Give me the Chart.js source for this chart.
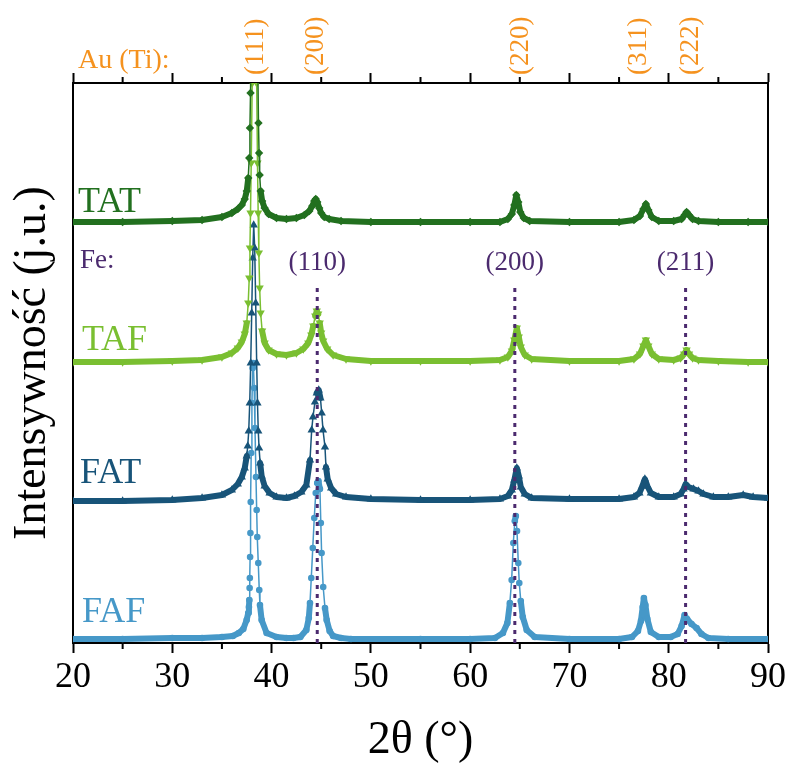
<!DOCTYPE html>
<html>
<head>
<meta charset="utf-8">
<script src="https://cdn.jsdelivr.net/npm/chart.js@4.4.1/dist/chart.umd.min.js"></script>
<style>
  body { margin: 0; background: #fff; }
</style>
</head>
<body>
<canvas id="xrd" width="787" height="772"></canvas>
<script>
const ctx = document.getElementById('xrd');

// [2theta (deg), intensity (a.u., curves already offset)]
const tat = [
  [20,421],[25,421],[30,422],[33,423],[35,426],[36,430],[36.6,434],[37.0,438],[37.3,444],[37.5,452],
  [37.65,465],[37.75,485],[37.82,515],[37.88,550],[37.95,600],[38.05,680],[38.3,740],[38.55,640],[38.62,570],[38.68,520],
  [38.74,490],[38.8,468],[38.9,452],[39.05,442],[39.3,435],[39.7,429],[40.5,425],[41.5,424],[42.5,425],[43.3,428],
  [43.8,432],[44.1,437],[44.3,442],[44.45,444],[44.6,441],[44.8,435],[45.0,430],[45.3,426],[45.8,424],[47,422],
  [50,421],[55,421],[60,421],[63,421],[63.8,424],[64.2,429],[64.45,438],[64.65,448],[64.85,441],[65.05,431],
  [65.4,425],[66,422],[70,421],[75,421],[76.5,423],[77.1,427],[77.45,434],[77.7,439],[77.95,433],[78.3,426],
  [79,422],[80.5,422],[81.3,424],[81.6,428],[81.8,431],[82.05,428],[82.4,424],[83,422],[85,421],[88,421],[90,421]
];
const taf = [
  [20,281],[25,281],[30,282],[33,283],[35,286],[36,290],[36.6,295],[37.0,301],[37.3,309],[37.5,320],
  [37.65,340],[37.75,365],[37.82,395],[37.88,430],[37.95,480],[38.05,560],[38.25,650],[38.5,560],[38.58,480],[38.65,430],
  [38.72,390],[38.8,355],[38.9,330],[39.05,312],[39.3,300],[39.7,293],[40.5,289],[41.5,288],[42.5,290],[43.2,294],
  [43.7,300],[44.0,308],[44.2,317],[44.4,327],[44.55,332],[44.7,329],[44.85,320],[45.0,310],[45.2,302],[45.6,294],
  [46.2,288],[47.5,284],[50,282],[55,282],[60,282],[63,283],[63.8,286],[64.2,292],[64.45,303],[64.7,315],
  [64.9,306],[65.1,296],[65.5,288],[66.2,284],[70,282],[75,282],[76.5,284],[77.1,289],[77.45,297],[77.7,303],
  [77.95,297],[78.3,289],[79,284],[80.5,283],[81.2,285],[81.55,289],[81.8,293],[82.05,289],[82.4,285],[83,283],
  [85,282],[88,281],[90,281]
];
const fat = [
  [20,142],[25,142],[30,143],[33,145],[35,148],[36,153],[36.6,159],[37.0,166],[37.3,175],[37.5,187],
  [37.6,197],[37.7,212],[37.8,240],[37.9,280],[38.0,330],[38.1,385],[38.2,418],[38.3,395],[38.4,340],[38.5,280],
  [38.58,240],[38.66,212],[38.74,195],[38.85,180],[39.0,167],[39.3,157],[39.8,150],[40.5,146],[41.5,145],[42.3,147],
  [43.0,151],[43.5,158],[43.87,183],[44.04,213],[44.17,226],[44.37,241],[44.55,250],[44.75,253],[44.92,245],[45.05,230],
  [45.18,213],[45.38,196],[45.48,176],[45.65,164],[46.0,155],[46.5,149],[47.5,146],[50,144],[55,143],[60,143],
  [63,144],[63.8,147],[64.2,153],[64.45,163],[64.7,175],[64.9,167],[65.1,156],[65.5,149],[66.2,145],[70,144],
  [75,144],[76.5,146],[77.05,150],[77.35,157],[77.6,164],[77.85,157],[78.2,150],[79,146],[80.5,146],[81.2,149],
  [81.5,154],[81.7,159],[82.0,156],[82.5,154],[83.0,152],[83.5,149],[84.5,146],[86,146],[87.5,148],[88.5,146],[90,145]
];
const faf = [
  [20,4],[25,4],[30,5],[33,5],[35,6],[36.1,7],[36.7,10],[37.15,14],[37.49,23],[37.65,30],
  [37.72,36],[37.76,43],[37.79,55],[37.81,65],[37.84,86],[37.87,110],[37.9,141],[37.95,190],[38.02,240],[38.1,275],
  [38.16,280],[38.25,255],[38.33,215],[38.43,166],[38.5,133],[38.56,106],[38.66,80],[38.76,53],[38.83,38],[39.0,23],
  [39.5,10],[40.5,6],[41.5,5],[42.2,5],[42.9,6],[43.5,13],[43.75,25],[43.87,40],[44.0,65],[44.15,95],
  [44.3,125],[44.45,150],[44.6,160],[44.72,162],[44.87,154],[44.96,120],[45.04,90],[45.2,56],[45.38,35],[45.55,23],
  [45.85,12],[46.2,7],[47,5],[48,4],[55,4],[60,4],[62.5,5],[63.3,10],[63.75,20],[64.0,40],
  [64.18,63],[64.35,100],[64.5,122],[64.6,127],[64.72,112],[64.85,80],[64.95,60],[65.1,42],[65.3,26],[65.7,13],
  [66.5,6],[70,4],[75,4],[76.3,6],[76.9,12],[77.2,22],[77.38,36],[77.5,45],[77.65,38],[77.85,24],
  [78.2,11],[79,6],[80.2,6],[80.9,9],[81.3,17],[81.6,28],[81.85,24],[82.3,19],[82.8,15],[83.3,9],
  [84,5],[86,4],[90,4]
];

const sampleNames = ['TAT', 'TAF', 'FAT', 'FAF'];
const auHkl = ['(111)', '(200)', '(220)', '(311)', '(222)'];
const auPos = [38.4, 44.5, 65.1, 77.0, 82.2];
const feHkl = ['(110)', '(200)', '(211)'];
const fePos = [44.6, 64.5, 81.7];
const minorTicks = [25, 35, 45, 55, 65, 75, 85];

const colors = ['#22701f', '#7abf31', '#185479', '#4698c8'];
const orange = '#f5921e';
const purple = '#4b2a6e';
const serif = '"Liberation Serif", "Times New Roman", serif';

Chart.defaults.font.family = serif;
Chart.defaults.color = '#000';

const markers = ['rectRot', 'triangle', 'triangle', 'circle'];
const markerRot = [0, 180, 0, 0];
const markerSize = [4.2, 4.8, 4.8, 3.3];

const feLines = fePos.map(p => ({
  data: [{x: p, y: 0}, {x: p, y: 360}],
  borderColor: purple,
  borderWidth: 3,
  borderDash: [4, 5],
  pointRadius: 0
}));

const curves = [tat, taf, fat, faf].map((s, i) => {
  const base = Math.min(...s.map(p => p[1]));
  return {
    label: sampleNames[i],
    data: s.map(([x, y]) => ({x, y})),
    borderColor: colors[i],
    backgroundColor: colors[i],
    borderJoinStyle: 'round',
    borderCapStyle: 'round',
    pointStyle: markers[i],
    rotation: markerRot[i],
    pointRadius: markerSize[i],
    pointBorderWidth: 0,
    clip: 0,
    segment: {
      // tall, steep flanks: thin line with markers; the rest: thick band
      borderWidth: c => {
        const a = s[c.p0DataIndex][1], b = s[c.p1DataIndex][1];
        return (Math.abs(b - a) > 8 && Math.max(a, b) - base > 45) ? 1.5 : 6;
      }
    }
  };
});

const namePos = [[20.5, 431], [20.9, 293], [20.7, 160], [20.9, 21]];

const annotate = {
  id: 'annotate',
  afterDraw(chart) {
    const {ctx, chartArea, scales: {x, y}} = chart;
    ctx.save();
    ctx.strokeStyle = '#000';
    ctx.lineWidth = 2;
    minorTicks.forEach(v => {
      const px = x.getPixelForValue(v);
      ctx.beginPath();
      ctx.moveTo(px, chartArea.bottom);
      ctx.lineTo(px, chartArea.bottom + 6);
      ctx.moveTo(px, chartArea.top);
      ctx.lineTo(px, chartArea.top - 6);
      ctx.stroke();
    });

    ctx.textAlign = 'left';
    ctx.textBaseline = 'alphabetic';
    ctx.font = '36px ' + serif;
    sampleNames.forEach((n, i) => {
      ctx.fillStyle = colors[i];
      ctx.fillText(n, x.getPixelForValue(namePos[i][0]), y.getPixelForValue(namePos[i][1]));
    });

    ctx.font = '27px ' + serif;
    ctx.fillStyle = purple;
    ctx.fillText('Fe:', x.getPixelForValue(20.7), y.getPixelForValue(375));
    ctx.textAlign = 'center';
    feHkl.forEach((t, i) => {
      ctx.fillText(t, x.getPixelForValue(fePos[i]), y.getPixelForValue(373));
    });

    ctx.fillStyle = orange;
    ctx.textAlign = 'left';
    ctx.font = '28px ' + serif;
    ctx.fillText('Au (Ti):', chartArea.left + 5, chartArea.top - 15);
    ctx.font = '27px ' + serif;
    auHkl.forEach((t, i) => {
      ctx.save();
      ctx.translate(x.getPixelForValue(auPos[i]), chartArea.top - 8);
      ctx.rotate(-Math.PI / 2);
      ctx.textBaseline = 'middle';
      ctx.fillText(t, 0, 0);
      ctx.restore();
    });
    ctx.restore();
  }
};

const axisGrid = {
  display: true,
  drawOnChartArea: false,
  drawTicks: true,
  tickLength: 10,
  tickWidth: 2,
  tickColor: '#000'
};

new Chart(ctx, {
  type: 'line',
  data: { datasets: [...feLines, ...curves] },
  options: {
    responsive: false,
    animation: false,
    layout: { padding: { left: 0, right: 19, top: 0, bottom: 0 } },
    plugins: { legend: { display: false }, tooltip: { enabled: false } },
    scales: {
      x: {
        type: 'linear', position: 'bottom', min: 20, max: 90,
        ticks: { stepSize: 10, font: { size: 36 }, color: '#000', padding: 3, maxRotation: 0 },
        grid: axisGrid,
        border: { color: '#000', width: 2 },
        title: { display: true, text: '2θ (°)', font: { size: 46 }, color: '#000', padding: { top: 0, bottom: 3 } },
        afterFit: s => { s.height = 129; s.paddingLeft = 0; s.paddingRight = 0; }
      },
      x2: {
        type: 'linear', position: 'top', min: 20, max: 90,
        ticks: { stepSize: 10, display: false },
        grid: axisGrid,
        border: { color: '#000', width: 2 },
        afterFit: s => { s.height = 83; s.paddingLeft = 0; s.paddingRight = 0; }
      },
      y: {
        type: 'linear', position: 'left', min: 0, max: 560,
        ticks: { display: false },
        grid: { display: false },
        border: { color: '#000', width: 2 },
        title: { display: true, text: 'Intensywność (j.u.)', font: { size: 46 }, color: '#000', padding: { top: 5, bottom: 0 } },
        afterFit: s => { s.width = 73; }
      },
      y2: {
        type: 'linear', position: 'right', min: 0, max: 560,
        ticks: { display: false },
        grid: { display: false },
        border: { color: '#000', width: 2 },
        afterFit: s => { s.width = 0; }
      }
    }
  },
  plugins: [annotate]
});
</script>
</body>
</html>
